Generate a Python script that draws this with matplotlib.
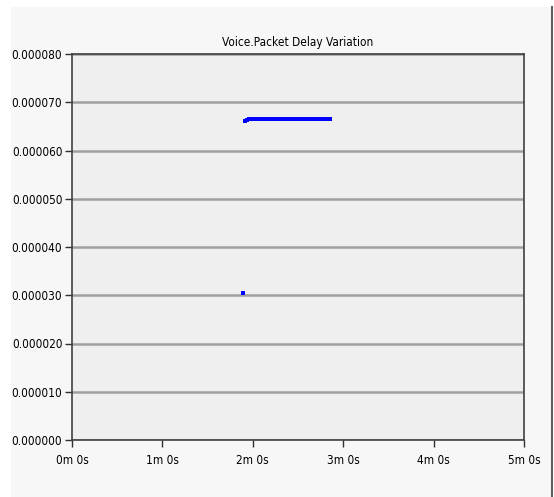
import matplotlib.pyplot as plt
from matplotlib.patches import Rectangle
from matplotlib.lines import Line2D

# Delay variation samples (time in seconds, value in seconds)
times = [113.8, 114.8, 116.0, 117.5, 119.0, 120.5, 122.0, 123.5, 125.0, 126.5,
         128.0, 129.5, 131.0, 132.5, 134.0, 135.5, 137.0, 138.5, 140.0, 141.5,
         143.0, 144.5, 146.0, 147.5, 149.0, 150.5, 152.0, 153.5, 155.0, 156.5,
         158.0, 159.5, 161.0, 162.5, 164.0, 165.5, 166.5, 168.5, 171.0]
values = [0.0000305, 0.0000661, 0.0000664, 0.0000665, 0.0000665, 0.0000665,
          0.0000665, 0.0000665, 0.0000665, 0.0000665, 0.0000665, 0.0000665,
          0.0000665, 0.0000665, 0.0000665, 0.0000665, 0.0000665, 0.0000665,
          0.0000665, 0.0000665, 0.0000665, 0.0000665, 0.0000665, 0.0000665,
          0.0000665, 0.0000665, 0.0000665, 0.0000665, 0.0000665, 0.0000665,
          0.0000665, 0.0000665, 0.0000665, 0.0000665, 0.0000665, 0.0000665,
          0.0000665, 0.0000665, 0.0000665]

x_ticks = [0, 60, 120, 180, 240, 300]
x_labels = ['0m 0s', '1m 0s', '2m 0s', '3m 0s', '4m 0s', '5m 0s']
y_ticks = [0.0, 0.00001, 0.00002, 0.00003, 0.00004, 0.00005, 0.00006, 0.00007, 0.00008]

plt.rcParams['font.family'] = ['DejaVu Sans']
plt.rcParams['font.stretch'] = 'condensed'

fig = plt.figure(figsize=(5.54, 4.97), dpi=100)
fig.patch.set_facecolor('white')

# outer light panel with a dark edge on the right
fig.patches.append(Rectangle((11 / 554, 0), (552 - 11) / 554, 1 - 7 / 497,
                             transform=fig.transFigure, facecolor='#f7f7f7',
                             edgecolor='none', zorder=-10))
fig.lines.append(Line2D([552 / 554, 552 / 554], [0, 1 - 7 / 497],
                        transform=fig.transFigure, color='#606060', lw=1.5,
                        zorder=-9))

ax = fig.add_axes([72 / 554, 1 - 440 / 497, (524 - 72) / 554, (440 - 54) / 497])
ax.set_zorder(5)
ax.set_facecolor('#efefef')

ax.set_xlim(0, 300)
ax.set_ylim(0, 0.00008)
ax.set_xticks(x_ticks)
ax.set_xticklabels(x_labels)
ax.set_yticks(y_ticks)
ax.set_yticklabels(['%.6f' % v for v in y_ticks])
ax.tick_params(labelsize=8.5, length=5, width=1, color='#303030')
ax.tick_params(axis='x', pad=5)
ax.tick_params(axis='y', pad=2)

ax.yaxis.grid(True, color='#a0a0a0', lw=1.8)
ax.set_axisbelow(True)
for s in ax.spines.values():
    s.set_color('#404040')
    s.set_linewidth(1.2)

ax.plot(times, values, linestyle='none', marker='s', markersize=2.6,
        color='#0000ff', markeredgewidth=0, zorder=3)

ax.set_title('Voice.Packet Delay Variation', fontsize=8.5, pad=6)

fig.savefig('out.png', dpi=100)
